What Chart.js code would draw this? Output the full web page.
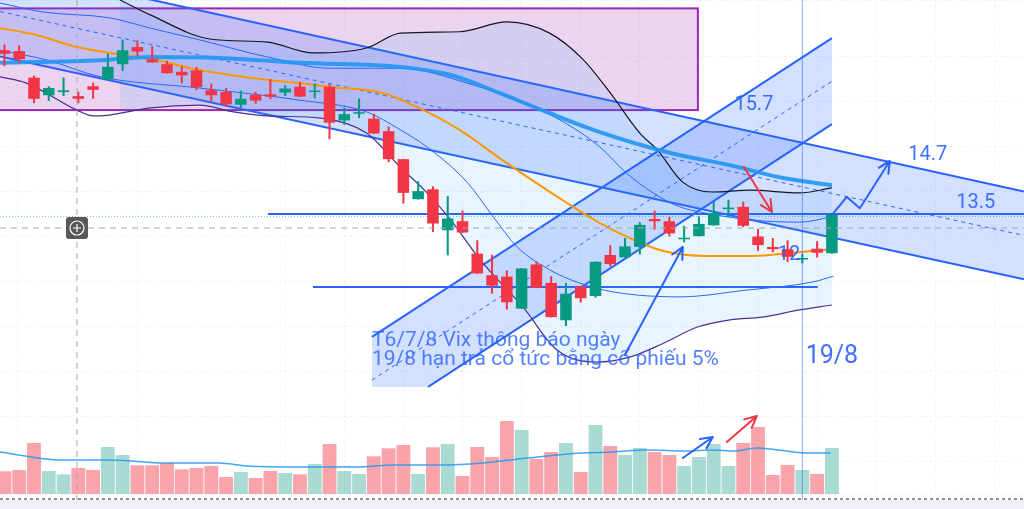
<!DOCTYPE html>
<html>
<head>
<meta charset="utf-8">
<script src="https://cdn.jsdelivr.net/npm/chart.js@4.4.0/dist/chart.umd.min.js"></script>
<style>
  html, body { margin: 0; padding: 0; background: #fff; }
  #wrap { width: 1024px; height: 509px; position: relative; }
</style>
</head>
<body>
<div id="wrap"><canvas id="vixChart"></canvas></div>
<script>
// VIX daily candles, index 0..56 (index 54 = 19/8)
const opens  = [17.14,17.12,16.53,16.14,16.21,16.12,16.34,16.49,16.83,17.21,16.94,16.83,16.66,16.69,16.25,16.21,15.93,16.15,16.16,16.20,
                16.33,16.21,16.33,15.58,15.73,15.62,15.34,14.72,13.83,14.05,13.14,13.34,12.62,12.14,12.11,11.40,12.38,11.97,11.14,11.89,
                11.68,12.59,12.54,12.77,13.39,13.34,12.94,13.01,13.25,13.61,13.66,13.00,12.77,12.72,12.49,12.73,12.63];
const highs  = [17.26,17.24,16.57,16.33,16.53,16.21,16.41,17.06,17.37,17.35,17.22,16.90,16.77,16.76,16.39,16.29,16.24,16.21,16.49,16.35,
                16.43,16.39,16.38,15.86,16.06,15.72,15.44,14.72,14.22,14.11,13.89,13.57,12.91,12.59,12.24,12.29,12.44,12.11,11.96,11.89,
                12.44,12.80,12.96,13.31,13.57,13.43,13.23,13.44,13.77,13.81,13.77,13.16,12.96,12.91,12.61,12.89,13.48];
const lows   = [16.79,16.86,15.97,16.02,16.13,15.97,16.07,16.48,16.69,17.02,16.87,16.63,16.41,16.26,16.01,15.89,15.87,15.96,16.06,16.13,
                16.11,16.08,15.17,15.49,15.64,15.29,14.66,13.74,13.83,13.11,12.59,13.09,12.18,11.74,11.39,11.40,11.86,11.21,11.02,11.54,
                11.65,12.34,12.54,12.61,13.16,13.01,12.88,13.01,13.25,13.44,13.22,12.69,12.66,12.44,12.41,12.54,12.63];
const closes = [17.06,16.94,16.06,16.30,16.25,16.06,16.26,16.77,17.14,17.11,16.87,16.63,16.58,16.32,16.14,15.94,16.06,16.02,16.11,16.29,
                16.11,16.24,15.53,15.72,15.76,15.29,14.72,13.97,14.01,13.29,13.40,13.09,12.18,11.91,11.54,12.29,11.86,11.21,11.73,11.63,
                12.44,12.39,12.78,13.26,13.34,13.07,12.97,13.28,13.52,13.64,13.24,12.81,12.72,12.55,12.50,12.64,13.48];
const volumes = [22.7,24,51,23,19.7,26,24,47,39,28.7,28.7,31,24.7,26,28,17,22,16,23,21,
                 19.7,30,50,23,20,37.7,45.7,49,20,46.7,50,18,47,37,73,64,35,42,51,22,
                 69,48,39,46,42,39,28,37,50,28,51,67,19,29,24,20,46];

// indicator lines: [candle index, value]
const volumeMa = [[-0.3,42],[3.8,34],[7.1,34],[10.9,31],[14.5,31],[16.4,28],[20.1,27],[23.8,27],[26.4,29],[29.4,29],[32.4,31],
                  [35.4,36],[39.0,41],[41.2,42],[43.5,44],[46.1,43],[47.9,44],[49.4,43],[50.9,46],[52.4,44],[54.2,41],[55.9,41]];
const maOrange = [[-0.3,17.63],[1.9,17.50],[4.9,17.21],[7.1,17.08],[9.9,16.95],[13.2,16.70],[17.8,16.48],[20.0,16.41],[22.2,16.32],
                  [25.6,16.19],[27.9,15.88],[30.8,15.37],[34.0,14.63],[38.1,13.74],[40.3,13.30],[42.3,12.97],[44.6,12.68],
                  [47.5,12.57],[50.7,12.57],[53.0,12.63],[56.0,12.72]];
const maCyan   = [[-0.3,16.86],[6.5,16.92],[9.9,16.99],[14.6,16.97],[20.0,16.86],[26.8,16.77],[30.2,16.59],[33.5,16.19],
                  [36.9,15.74],[40.3,15.32],[44.8,14.88],[49.3,14.57],[52.7,14.30],[56.0,14.14]];
const bandUpper = [[7.8,18.26],[9.9,17.92],[13.9,17.39],[17.8,17.32],[20.9,17.08],[24.5,17.19],[26.8,17.52],[30.8,17.55],
                   [34.0,17.77],[36.9,17.52],[39.2,16.92],[41.0,16.19],[43.0,15.30],[44.2,14.92],[45.9,14.21],[47.9,13.99],
                   [50.5,14.03],[53.8,13.97],[56.0,14.08]];
const bandLower = [[-0.3,16.55],[1.5,16.41],[4.9,15.81],[6.0,15.68],[7.1,15.70],[9.9,15.86],[13.2,15.92],[15.5,15.77],[17.8,15.68],
                   [21.4,15.63],[24.5,15.30],[26.8,14.54],[28.6,13.97],[30.2,13.37],[32.2,12.48],[35.1,11.43],[37.4,10.48],
                   [40.1,10.21],[42.3,10.32],[44.6,10.63],[46.9,10.99],[49.1,11.15],[51.3,11.21],[53.8,11.37],[56.0,11.48]];
const bandMidA = [[-0.3,18.19],[2.6,17.99],[7.1,17.86],[9.9,17.63],[13.2,17.37],[17.8,16.99],[22.0,16.74],[26.8,16.74],
                  [31.7,16.37],[34.7,16.03],[37.6,15.59],[40.3,14.99],[42.1,14.41],[43.9,13.97],[45.7,13.66],[47.5,13.52],
                  [50.5,13.37],[53.8,13.32],[55.9,13.43]];
const bandMidB = [[-0.3,17.14],[2.9,16.92],[6.5,16.55],[13.2,16.30],[20.0,16.03],[24.5,15.77],[26.8,15.37],[28.6,14.99],
                  [31.3,14.21],[33.1,13.43],[34.7,12.77],[36.9,12.26],[38.9,11.97],[41.2,11.77],[45.7,11.66],[50.2,11.81],
                  [54.7,11.99],[56.1,12.12]];

// faint vertical grid (time marks)
const timeGrid = [0.9, 9, 19, 23, 27, 31, 35, 39, 43, 47, 51, 55, 59, 63, 67];

// hand-drawn objects, anchored in (index, price)
const zone = { from: -1, to: 46.93, top: 18.07, bottom: 15.81 };
const downChannel = { upper: [[-0.3, 19.0], [69, 14.0]], lower: [[-0.3, 17.0], [69, 12.05]] };
const upChannel = { upper: [[24.87, 10.77], [56, 17.41]], lower: [[28.67, 9.66], [56, 15.5]], mid: [[24.87, 9.81], [56, 16.45]], floor: 9.66 };
const hLines = [{ price: 13.5, from: 17.83, to: 69 }, { price: 11.88, from: 20.88, to: 55.04 }];
const markerDay = 54;
const blueArrows = [[[41.99, 10.37], [45.91, 12.77]], [[56, 13.48], [57.01, 13.88], [57.89, 13.63], [59.92, 14.68]]];
const redArrows = [[[50.04, 14.55], [51.94, 13.545]]];
const volArrows = [{ color: '#2962ff', pts: [[45.91, 36], [47.94, 57]] }, { color: '#f23645', pts: [[48.89, 52], [50.92, 78]] }];
const labels = [
  { text: '15.7', at: [50.72, 15.92], size: 20 },
  { text: '14.7', at: [62.49, 14.81], size: 20 },
  { text: '13.5', at: [65.74, 13.745], size: 20 },
  { text: '12', at: [53.09, 12.59], size: 20 },
  { text: '19/8', at: [56.0, 10.32], size: 25 }
];
const noteLines = ['T6/7/8 Vix thông báo ngày', '19/8 hạn trả cổ tức bằng cổ phiếu 5%'];
const noteAt = [24.87, 10.57];
const crosshair = [4.91, 13.19];

const UP = '#089981', DOWN = '#f23645', BLUE = '#2962ff';

const idx = opens.map((_, i) => i);
const isUp = idx.map(i => closes[i] >= opens[i]);
const asXY = arr => arr.map(([x, y]) => ({ x, y }));

const lineDs = (label, pts, color, width, extra) => Object.assign({
  type: 'line', label, data: asXY(pts), borderColor: color, borderWidth: width,
  pointRadius: 0, cubicInterpolationMode: 'monotone', fill: false, yAxisID: 'y'
}, extra || {});

function arrow(ctx, pts, color) {
  ctx.save();
  ctx.strokeStyle = color; ctx.lineWidth = 2; ctx.lineJoin = 'round'; ctx.lineCap = 'round';
  ctx.beginPath();
  pts.forEach(([x, y], k) => k ? ctx.lineTo(x, y) : ctx.moveTo(x, y));
  const [x1, y1] = pts[pts.length - 2], [x2, y2] = pts[pts.length - 1];
  const a = Math.atan2(y2 - y1, x2 - x1), L = 13;
  ctx.moveTo(x2 - L * Math.cos(a - 0.45), y2 - L * Math.sin(a - 0.45));
  ctx.lineTo(x2, y2);
  ctx.lineTo(x2 - L * Math.cos(a + 0.45), y2 - L * Math.sin(a + 0.45));
  ctx.stroke();
  ctx.restore();
}

const drawings = {
  id: 'drawings',
  beforeDatasetsDraw(chart) {
    const { ctx, chartArea: ca, scales: { x, y } } = chart;
    const P = ([i, p]) => [x.getPixelForValue(i), y.getPixelForValue(p)];
    ctx.save();
    ctx.beginPath(); ctx.rect(ca.left, ca.top, ca.width, ca.height); ctx.clip();

    // purple zone
    const zx1 = x.getPixelForValue(zone.from), zx2 = x.getPixelForValue(zone.to);
    const zy1 = y.getPixelForValue(zone.top), zy2 = y.getPixelForValue(zone.bottom);
    ctx.fillStyle = 'rgba(156,39,176,0.2)';
    ctx.fillRect(zx1, zy1, zx2 - zx1, zy2 - zy1);
    ctx.strokeStyle = '#9c27b0'; ctx.lineWidth = 2;
    ctx.strokeRect(zx1, zy1, zx2 - zx1, zy2 - zy1);

    // descending channel
    const du = downChannel.upper.map(P), dl = downChannel.lower.map(P);
    ctx.fillStyle = 'rgba(41,98,255,0.2)';
    ctx.beginPath();
    ctx.moveTo(...du[0]); ctx.lineTo(...du[1]); ctx.lineTo(...dl[1]); ctx.lineTo(...dl[0]);
    ctx.closePath(); ctx.fill();

    // ascending channel
    const uu = upChannel.upper.map(P), ul = upChannel.lower.map(P);
    const floorY = y.getPixelForValue(upChannel.floor);
    ctx.beginPath();
    ctx.moveTo(...uu[0]); ctx.lineTo(...uu[1]); ctx.lineTo(...ul[1]); ctx.lineTo(...ul[0]);
    ctx.lineTo(uu[0][0], floorY);
    ctx.closePath(); ctx.fill();

    ctx.strokeStyle = BLUE; ctx.lineWidth = 2;
    [du, dl, uu, ul].forEach(s => { ctx.beginPath(); ctx.moveTo(...s[0]); ctx.lineTo(...s[1]); ctx.stroke(); });

    ctx.lineWidth = 1; ctx.setLineDash([4, 4]);
    const dm = [[du[0][0], (du[0][1] + dl[0][1]) / 2], [du[1][0], (du[1][1] + dl[1][1]) / 2]];
    [dm, upChannel.mid.map(P)].forEach(s => { ctx.beginPath(); ctx.moveTo(...s[0]); ctx.lineTo(...s[1]); ctx.stroke(); });
    ctx.setLineDash([]);

    // horizontal levels
    ctx.lineWidth = 2;
    hLines.forEach(h => {
      const yy = y.getPixelForValue(h.price);
      ctx.beginPath(); ctx.moveTo(x.getPixelForValue(h.from), yy); ctx.lineTo(x.getPixelForValue(h.to), yy); ctx.stroke();
    });
    ctx.restore();
  },
  afterDatasetsDraw(chart) {
    const { ctx, chartArea: ca, scales: { x, y, vol } } = chart;
    const P = ([i, p]) => [x.getPixelForValue(i), y.getPixelForValue(p)];
    ctx.save();
    ctx.beginPath(); ctx.rect(ca.left, ca.top, ca.width, ca.height + 15); ctx.clip();

    // last price line
    const ly = y.getPixelForValue(closes[closes.length - 1]);
    ctx.strokeStyle = 'rgba(8,153,129,0.55)'; ctx.lineWidth = 1; ctx.setLineDash([1, 2]);
    ctx.beginPath(); ctx.moveTo(ca.left, ly + 1.5); ctx.lineTo(ca.right, ly + 1.5); ctx.stroke();

    // crosshair
    const [cx, cy] = P(crosshair);
    ctx.strokeStyle = '#a3a6af'; ctx.setLineDash([6, 5]);
    ctx.beginPath(); ctx.moveTo(cx, ca.top); ctx.lineTo(cx, ca.bottom + 15); ctx.stroke();
    ctx.beginPath(); ctx.moveTo(ca.left, cy); ctx.lineTo(ca.right, cy); ctx.stroke();
    ctx.setLineDash([]);

    // 19/8 marker
    const mx = x.getPixelForValue(markerDay);
    ctx.strokeStyle = 'rgba(41,98,255,0.55)'; ctx.lineWidth = 1;
    ctx.beginPath(); ctx.moveTo(mx, ca.top); ctx.lineTo(mx, ca.bottom + 15); ctx.stroke();

    blueArrows.forEach(a => arrow(ctx, a.map(P), BLUE));
    redArrows.forEach(a => arrow(ctx, a.map(P), DOWN));
    volArrows.forEach(a => arrow(ctx, a.pts.map(([i, v]) => [x.getPixelForValue(i), vol.getPixelForValue(v)]), a.color));

    ctx.fillStyle = 'rgba(41,98,255,0.9)';
    ctx.textAlign = 'center'; ctx.textBaseline = 'middle';
    labels.forEach(l => {
      ctx.font = l.size + 'px Roboto, "Noto Sans", sans-serif';
      ctx.fillText(l.text, ...P(l.at));
    });

    ctx.fillStyle = 'rgba(41,98,255,0.8)';
    ctx.textAlign = 'left'; ctx.textBaseline = 'alphabetic';
    ctx.font = '21px Roboto, "Noto Sans", sans-serif';
    const [nx, ny] = P(noteAt);
    noteLines.forEach((t, k) => ctx.fillText(t, nx, ny + k * 19));

    // crosshair button
    ctx.fillStyle = 'rgba(70,70,70,0.9)';
    ctx.beginPath(); ctx.roundRect(cx - 11, cy - 11, 22, 22, 3); ctx.fill();
    ctx.strokeStyle = '#fff'; ctx.lineWidth = 1.2;
    ctx.beginPath(); ctx.arc(cx, cy, 7, 0, Math.PI * 2); ctx.stroke();
    ctx.beginPath(); ctx.moveTo(cx - 4, cy); ctx.lineTo(cx + 4, cy); ctx.moveTo(cx, cy - 4); ctx.lineTo(cx, cy + 4); ctx.stroke();
    ctx.restore();
  },
  afterDraw(chart) {
    const { ctx, chartArea: ca } = chart;
    ctx.save();
    ctx.fillStyle = '#f0eef8';
    ctx.fillRect(0, ca.bottom + 6, chart.width, chart.height - ca.bottom - 6);
    ctx.strokeStyle = '#8d8f96'; ctx.lineWidth = 2; ctx.setLineDash([3, 3]);
    ctx.beginPath(); ctx.moveTo(0, ca.bottom + 5); ctx.lineTo(chart.width, ca.bottom + 5); ctx.stroke();
    ctx.restore();
  }
};

const ctx = document.getElementById('vixChart').getContext('2d');

new Chart(ctx, {
  data: {
    datasets: [
      {
        type: 'bar', label: 'Body', yAxisID: 'y', grouped: false, order: 1,
        data: idx.map(i => ({ x: i, y: [opens[i], closes[i]] })),
        backgroundColor: idx.map(i => isUp[i] ? UP : DOWN),
        barPercentage: 0.78, categoryPercentage: 1, minBarLength: 1.5, borderWidth: 0
      },
      {
        type: 'bar', label: 'Wick', yAxisID: 'y', grouped: false, order: 2,
        data: idx.map(i => ({ x: i, y: [lows[i], highs[i]] })),
        backgroundColor: idx.map(i => isUp[i] ? UP : DOWN),
        barThickness: 1.4, borderWidth: 0
      },
      lineDs('MA cyan', maCyan, 'rgba(33,150,243,0.9)', 4, { order: 5 }),
      lineDs('MA orange', maOrange, '#ff9800', 2, { order: 5 }),
      lineDs('Band upper', bandUpper, '#131722', 1.2, { order: 6, fill: { target: 5, above: 'rgba(33,150,243,0.1)', below: 'rgba(33,150,243,0.1)' } }),
      lineDs('Band lower', bandLower, '#4a2c8f', 1.2, { order: 6 }),
      lineDs('Band mid A', bandMidA, BLUE, 1, { order: 6 }),
      lineDs('Band mid B', bandMidB, BLUE, 1, { order: 6 }),
      lineDs('Vol MA', volumeMa, 'rgba(33,150,243,0.85)', 1.5, { order: 8, yAxisID: 'vol' }),
      {
        type: 'bar', label: 'Volume', yAxisID: 'vol', grouped: false, order: 9,
        data: idx.map(i => ({ x: i, y: volumes[i] })),
        backgroundColor: idx.map(i => isUp[i] ? 'rgba(8,153,129,0.35)' : 'rgba(242,54,69,0.45)'),
        barPercentage: 0.94, categoryPercentage: 1, borderWidth: 0
      }
    ]
  },
  options: {
    responsive: true,
    maintainAspectRatio: false,
    animation: false,
    events: [],
    layout: { padding: { left: 0, right: 0, top: 0, bottom: 15 } },
    plugins: { legend: { display: false }, tooltip: { enabled: false } },
    scales: {
      x: {
        type: 'linear', min: -0.3, max: 69, offset: false,
        ticks: { display: false },
        afterBuildTicks: s => { s.ticks = timeGrid.map(v => ({ value: v })); },
        afterFit: s => { s.height = 0; },
        grid: { color: '#eef0f4', drawTicks: false, offset: false },
        border: { display: false, dash: [2, 3] }
      },
      y: {
        type: 'linear', min: 7.28, max: 18.256,
        ticks: { display: false, stepSize: 1 },
        afterFit: s => { s.width = 0; },
        grid: { color: '#eef0f4', drawTicks: false },
        border: { display: false, dash: [2, 3] }
      },
      vol: { type: 'linear', min: 0, max: 494, display: false }
    }
  },
  plugins: [drawings]
});
</script>
</body>
</html>
